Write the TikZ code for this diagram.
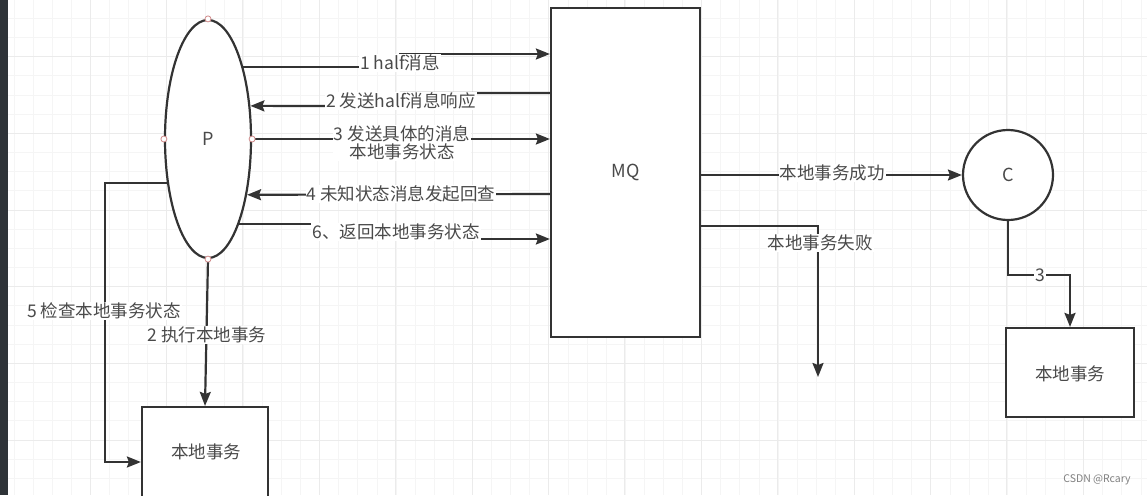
\documentclass[tikz,border=0pt]{standalone}
\usepackage{fontspec}
\setmainfont{Noto Sans CJK SC}
\usetikzlibrary{shapes.geometric,arrows.meta}
\definecolor{ln}{HTML}{333333}
\definecolor{tx}{HTML}{4A4A4A}
\definecolor{gminor}{HTML}{F5F5F5}
\definecolor{gmajor}{HTML}{EBEBEB}
\definecolor{handle}{HTML}{D08A8A}
\definecolor{strip}{HTML}{2E3338}
\tikzset{
  conn/.style={draw=ln, line width=2.2pt, line join=miter},
  arr/.style={conn, -{Stealth[length=14pt,width=11pt,inset=2pt]}},
  shp/.style={draw=ln, line width=2.2pt, fill=white, inner sep=0pt, text=tx,
    font=\fontsize{18}{20}\selectfont},
  lbl/.style={fill=white, text=tx, inner sep=1pt, align=center,
    font=\fontsize{17.5}{18}\selectfont},
  hdl/.style={circle, draw=handle, fill=white, line width=0.8pt, inner sep=0pt, minimum size=6pt}
}
\begin{document}
\begin{tikzpicture}[x=1pt,y=-1pt]
\useasboundingbox (0,0) rectangle (1147,495);
\clip (0,0) rectangle (1147,495);
\fill[white] (0,0) rectangle (1147,495);
% grid
\foreach \i in {0,...,60} {\draw[gminor, line width=0.8pt] ({14+19.1*\i},0) -- ({14+19.1*\i},495);}
\foreach \i in {0,...,26} {\draw[gminor, line width=0.8pt] (0,{18.3+19.17*\i}) -- (1147,{18.3+19.17*\i});}
\foreach \i in {0,...,14} {\draw[gmajor, line width=0.8pt] ({90+76.4*\i},0) -- ({90+76.4*\i},495);}
\foreach \i in {0,...,6} {\draw[gmajor, line width=0.8pt] (0,{56.7+76.7*\i}) -- (1147,{56.7+76.7*\i});}
\fill[strip] (0,0) rectangle (8,495);

% shapes
\node[shp, ellipse, minimum width=86pt, minimum height=238pt] (P) at (208,139) {P};
\node[shp, rectangle, minimum width=149pt, minimum height=329pt] (MQ) at (625.5,172.5) {MQ};
\node[shp, circle, minimum size=90pt] (C) at (1008,175) {C};
\node[shp, rectangle, minimum width=126pt, minimum height=112pt] (LB) at (205,463) {};
\node[shp, rectangle, minimum width=128pt, minimum height=89pt] (RB) at (1070,372.5) {};
\coordinate (failend) at (818,377);

% connectors
\draw[arr] (P.64.1) -| (400,54) -- (MQ.west |- 400,54);
\draw[arr] (MQ.west |- 0,93) -| (401,106) -- (P.38);
\draw[arr] (P.east) -- (MQ.west |- P.east);
\draw[arr] (MQ.west |- 0,194) -- (P.-55.3);
\draw[arr] (P.-70) -| (396,239) -- (MQ.west |- 0,239);
\draw[arr] (P.227.7) -| (105,462) -- (LB.west |- 0,462);
\draw[arr] (P.south) -- (LB.north);
\draw[arr] (MQ.east |- C.west) -- (C.west);
\draw[arr] (MQ.east |- 0,226) -| (failend);
\draw[arr] (C.south) |- (1040,275) -| (RB.north);

% handles
\foreach \a in {north,south,east,west} {\node[hdl] at (P.\a) {};}

% labels
\node[lbl] (l1) at (400,63) {1 half消息};
\node[lbl] (l2) at (401,101) {2 发送half消息响应};
\node[lbl] (l3) at (402,143) {3 发送具体的消息\\本地事务状态};
\node[lbl] (l4) at (401,194) {4 未知状态消息发起回查};
\node[lbl] (l6) at (396,232) {6、返回本地事务状态};
\node[lbl] (l5) at (104,311) {5 检查本地事务状态};
\node[lbl] (l2b) at (207,335) {2 执行本地事务};
\node[lbl] (ls) at (832,173) {本地事务成功};
\node[lbl] (lf) at (820,243) {本地事务失败};
\node[lbl] (l3c) at (1040,275) {3};
\node[text=tx, font=\fontsize{17.5}{18}\selectfont] (lbt) at (206,452) {本地事务};
\node[text=tx, font=\fontsize{17.5}{18}\selectfont] (rbt) at (1070,374) {本地事务};
\node[text=gray, font=\fontsize{10.5}{12}\selectfont] (wm) at (1097,480) {CSDN @Rcary};
\end{tikzpicture}
\end{document}
